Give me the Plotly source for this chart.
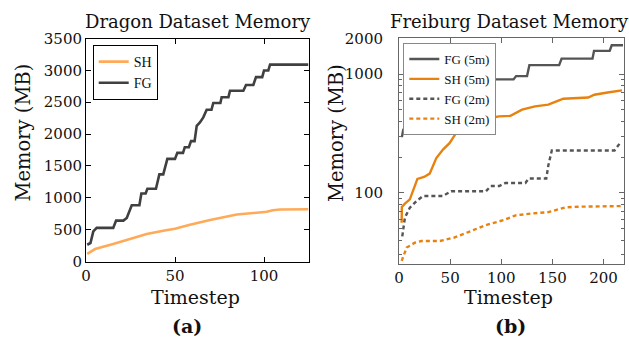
import plotly.graph_objects as go
import math

W, H = 629, 344

# ---------------- data: Dragon dataset ----------------
dragon_fg_t = [0.7, 2.5, 4.1, 6, 15.3, 16.9, 21, 22.9, 25.7, 30, 31.1, 33.5, 34.5, 39.3, 41.2,
               43.4, 45.7, 50, 51.3, 54.5, 55.5, 57.8, 59, 61, 62.2, 64, 65.9, 67.8, 70.5,
               71.5, 75.5, 76.2, 80, 80.9, 88.4, 89.9, 94, 95.5, 99, 100, 102.4, 103.4, 125]
dragon_fg_mem = [263, 290, 473, 527, 527, 642, 642, 684, 883, 883, 1068, 1068, 1142, 1142, 1367,
                 1367, 1611, 1611, 1705, 1705, 1794, 1794, 1889, 1889, 2130, 2183, 2262, 2382, 2382,
                 2487, 2487, 2577, 2577, 2681, 2681, 2771, 2771, 2893, 2893, 2997, 2997, 3090, 3090]
dragon_sh_t = [0.7, 5.1, 15.3, 24.7, 34.1, 43.4, 50, 58.4, 69.7, 84.7, 99.6, 101.5, 105, 109, 125]
dragon_sh_mem = [121, 195, 274, 353, 432, 484, 515, 575, 650, 737, 779, 780, 805, 815, 820]

# ---------------- data: Freiburg dataset ----------------
fg5_t = [2, 3, 4.2, 15, 30, 45, 60, 75, 90, 112, 114.5, 125.2, 127.5, 156.6, 159, 189.2,
         190.7, 206, 208, 219]
fg5_mem = [300, 300, 341, 420, 530, 620, 720, 800, 902, 902, 961, 961, 1189, 1189, 1349, 1349,
           1567, 1567, 1749, 1749]
sh5_t = [2.6, 2.8, 5.8, 10.6, 18, 24.5, 30, 36.5, 43, 49.4, 55.8, 62, 70, 80, 93, 97.8, 109,
         112.6, 120.3, 133, 146, 154, 160.7, 185, 191, 204, 218]
sh5_mem = [56, 76, 81, 88, 131, 136, 145, 196, 231, 262, 318, 374, 410, 425, 433, 440, 445,
           462, 501, 534, 552, 589, 620, 635, 670, 700, 728]
fg2_t = [3.2, 5.8, 10.6, 17, 23.5, 43, 51, 85, 89.7, 98, 104, 123.6, 126.8, 144, 146, 149.4,
         210.7, 215.6, 217]
fg2_mem = [43, 62, 75, 85, 94, 94, 103, 103, 114, 114, 121, 121, 132, 132, 170, 227, 227, 259, 262]
sh2_t = [2.6, 7.5, 15.5, 22, 40, 54, 70.4, 86.5, 102.6, 114, 130, 146, 162.3, 175, 215.6, 218]
sh2_mem = [26.7, 34.6, 38, 39.3, 39.3, 42, 47.7, 54, 59, 64.6, 67, 68.7, 75.3, 76.4, 77.3, 77.5]

# tick labels
dragon_yticks = [0, 500, 1000, 1500, 2000, 2500, 3000, 3500]
dragon_xticks = [0, 50, 100]
frei_xticks = [0, 50, 100, 150, 200]
frei_yticks = [100, 1000, 2000]
frei_yminor = [30, 40, 50, 60, 70, 80, 90, 200, 300, 400, 500, 600, 700, 800, 900]

SERIF = "DejaVu Serif"
TIMES = "Liberation Serif"


def px(x):
    return x / W


def py(y):
    return 1 - y / H


fig = go.Figure()

c_fg_a = "#404040"
c_sh_a = "#FFAA58"
c_fg_b = "#555555"
c_sh_b = "#E8820E"

fig.add_trace(go.Scatter(x=dragon_sh_t, y=dragon_sh_mem, mode="lines", name="SH",
                         line=dict(color=c_sh_a, width=2.6), xaxis="x", yaxis="y", legend="legend"))
fig.add_trace(go.Scatter(x=dragon_fg_t, y=dragon_fg_mem, mode="lines", name="FG",
                         line=dict(color=c_fg_a, width=2.6), xaxis="x", yaxis="y", legend="legend"))

fig.add_trace(go.Scatter(x=fg5_t, y=fg5_mem, mode="lines", name="FG (5m)",
                         line=dict(color=c_fg_b, width=2.4), xaxis="x2", yaxis="y2", legend="legend2"))
fig.add_trace(go.Scatter(x=sh5_t, y=sh5_mem, mode="lines", name="SH (5m)",
                         line=dict(color=c_sh_b, width=2.4), xaxis="x2", yaxis="y2", legend="legend2"))
fig.add_trace(go.Scatter(x=fg2_t, y=fg2_mem, mode="lines", name="FG (2m)",
                         line=dict(color=c_fg_b, width=2.4, dash="4px,3px"), xaxis="x2", yaxis="y2",
                         legend="legend2"))
fig.add_trace(go.Scatter(x=sh2_t, y=sh2_mem, mode="lines", name="SH (2m)",
                         line=dict(color=c_sh_b, width=2.4, dash="4px,3px"), xaxis="x2", yaxis="y2",
                         legend="legend2"))

axis_common = dict(showgrid=False, zeroline=False, ticks="inside", ticklen=5, mirror="ticks",
                   showline=True, linewidth=1, automargin=False,
                   tickfont=dict(family=SERIF, size=15, color="#111"))

fig.update_layout(
    width=W, height=H, margin=dict(l=0, r=0, t=0, b=0, autoexpand=False),
    paper_bgcolor="white", plot_bgcolor="white", showlegend=True,
    xaxis=dict(domain=[px(86), px(308.5)], range=[0, 125], tickvals=dragon_xticks,
               anchor="y", linecolor="#000", tickcolor="#000", **axis_common),
    yaxis=dict(domain=[py(261.5), py(38.5)], range=[0, 3500], tickvals=dragon_yticks,
               anchor="x", linecolor="#000", tickcolor="#000", **axis_common),
    xaxis2=dict(domain=[px(399), px(624)], range=[0, 220], tickvals=frei_xticks,
                anchor="y2", linecolor="#666", tickcolor="#666", **axis_common),
    yaxis2=dict(domain=[py(263.5), py(38.3)], type="log",
                range=[math.log10(25.4), math.log10(2000)], tickvals=frei_yticks,
                ticktext=[str(v) for v in frei_yticks], ticklabelstandoff=12,
                minor=dict(tickvals=frei_yminor, ticks="inside", ticklen=3, tickcolor="#666"),
                anchor="x2", linecolor="#666", tickcolor="#666", **axis_common),
    legend=dict(x=px(92.7), y=py(45), xanchor="left", yanchor="top", bgcolor="white",
                bordercolor="#000", borderwidth=1, font=dict(family=TIMES, size=14, color="#111"),
                tracegroupgap=0, itemwidth=30),
    legend2=dict(x=px(403.3), y=py(43), xanchor="left", yanchor="top", bgcolor="white",
                 bordercolor="#888", borderwidth=1, font=dict(family=TIMES, size=13, color="#111"),
                 tracegroupgap=0, itemwidth=30),
)

ann = [
    dict(text="Dragon Dataset Memory", x=px(198), y=py(21), size=18),
    dict(text="Freiburg Dataset Memory", x=px(509), y=py(21), size=18),
    dict(text="Timestep", x=px(195), y=py(297), size=19),
    dict(text="Timestep", x=px(508), y=py(297), size=19),
    dict(text="<b>(a)</b>", x=px(187), y=py(326), size=19),
    dict(text="<b>(b)</b>", x=px(510), y=py(326), size=19),
]
for a in ann:
    fig.add_annotation(text=a["text"], x=a["x"], y=a["y"], xref="paper", yref="paper",
                       xanchor="center", yanchor="middle", showarrow=False,
                       font=dict(family=SERIF, size=a["size"], color="#111"))

for xc in (22.5, 336):
    fig.add_annotation(text="Memory (MB)", x=px(xc), y=py(133), xref="paper", yref="paper",
                       xanchor="center", yanchor="middle", showarrow=False, textangle=-90,
                       font=dict(family=SERIF, size=19.5, color="#111"))

ps = "document.body.style.margin='0'; document.body.style.overflow='hidden';"
fig.write_html("out.html", post_script=ps, config={"displayModeBar": False})
